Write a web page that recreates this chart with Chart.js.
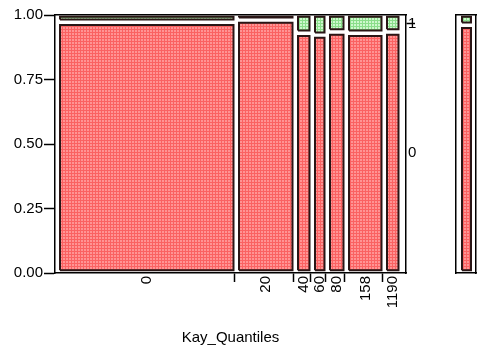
<!DOCTYPE html>
<html>
<head>
<meta charset="utf-8">
<script src="https://cdn.jsdelivr.net/npm/chart.js@4.4.0/dist/chart.umd.min.js"></script>
<style>
  body { margin: 0; background: #fff; }
  #wrap { position: relative; width: 477px; height: 351px; }
  #mosaic { position: absolute; left: 0; top: 0; }
  #margin { position: absolute; left: 440px; top: 0; }
</style>
</head>
<body>
<div id="wrap">
  <canvas id="mosaic" width="440" height="351"></canvas>
  <canvas id="margin" width="37" height="351"></canvas>
</div>
<script>
// --- DATA ---
const categories = ['0', '20', '40', '60', '80', '158', '1190'];
const counts = [179, 59, 17, 15, 19, 38, 17];          // column widths
const share0 = [0.972, 0.980, 0.929, 0.922, 0.934, 0.929, 0.934]; // share of level "0"
const levels = ['0', '1'];
const yTicks = [0, 0.25, 0.5, 0.75, 1];
const xTitle = 'Kay_Quantiles';

Chart.defaults.font.family = "'Liberation Sans', Arial, sans-serif";
Chart.defaults.font.size = 15;
Chart.defaults.color = '#000';

const makePattern = (base, dot) => {
    const c = document.createElement('canvas');
    c.width = 3; c.height = 3;
    const g = c.getContext('2d');
    g.fillStyle = base; g.fillRect(0, 0, 3, 3);
    g.fillStyle = dot; g.fillRect(0, 0, 2, 2);
    return g.createPattern(c, 'repeat');
};
const RED_FILL = makePattern('#fa6262', '#ff9494');
const GREEN_FILL = makePattern('#8ade8a', '#cdf8cd');
const EDGE = '#2a1616';

const total = counts.reduce((a, b) => a + b, 0);
const xMax = total + 7;
const gapL = 5, gapR = 0.5;     // horizontal inset, count units
const gapY = 0.0105, gapTop = 0.007;

const rect = (x0, x1, y0, y1) => [
    { x: x0, y: y0 }, { x: x0, y: y1 }, { x: x1, y: y1 }, { x: x1, y: y0 }, { x: x0, y: y0 }
];
const box = (pts, fill) => ({
    data: pts, showLine: true, fill: 'shape', backgroundColor: fill,
    borderColor: EDGE, borderWidth: 2, pointRadius: 0, pointHoverRadius: 0,
    tension: 0, borderJoinStyle: 'miter'
});

const starts = [];
counts.reduce((acc, c) => { starts.push(acc); return acc + c; }, 0);
const ends = starts.map((s, i) => s + counts[i]);
const centers = starts.map((s, i) => (s + gapL + ends[i]) / 2);

const datasets = [];
categories.forEach((cat, i) => {
    const x0 = starts[i] + gapL, x1 = ends[i] - gapR, p = share0[i];
    datasets.push(box(rect(x0, x1, gapY, p - gapY), RED_FILL));
    datasets.push(box(rect(x0, x1, p + gapY, 1 - gapTop), GREEN_FILL));
});

const boundaryTicks = ends.slice(0, -1);
const centerSet = new Set(centers);
const lastP = share0[share0.length - 1];
const rightTicks = [lastP / 2, (1 + lastP) / 2];

const frame = { display: true, color: '#000', width: 1.5 };
const fixW = w => s => { s.width = w; };
const fixH = h => s => { s.height = h; };

new Chart(document.getElementById('mosaic'), {
    type: 'scatter',
    data: { datasets },
    options: {
        responsive: false, animation: false, devicePixelRatio: 1,
        layout: { padding: 0 },
        plugins: { legend: { display: false }, tooltip: { enabled: false } },
        scales: {
            x: {
                type: 'linear', position: 'bottom', min: 0, max: xMax,
                afterBuildTicks: s => {
                    s.ticks = boundaryTicks.concat(centers).sort((a, b) => a - b).map(v => ({ value: v }));
                },
                afterFit: fixH(78),
                ticks: {
                    autoSkip: false, minRotation: 90, maxRotation: 90, padding: -6,
                    callback: v => {
                        const i = centers.indexOf(v);
                        return i >= 0 ? categories[i] : '';
                    }
                },
                grid: {
                    drawOnChartArea: false, tickLength: 9, tickWidth: 1.5,
                    tickColor: ctx => (ctx.tick && centerSet.has(ctx.tick.value)) ? 'rgba(0,0,0,0)' : '#000'
                },
                border: frame,
                title: { display: true, text: xTitle, padding: { top: 0, bottom: 4 } }
            },
            xTop: {
                type: 'linear', position: 'top', min: 0, max: xMax,
                afterFit: fixH(15),
                ticks: { display: false }, grid: { display: false }, border: frame
            },
            y: {
                type: 'linear', position: 'left', min: 0, max: 1,
                afterBuildTicks: s => { s.ticks = yTicks.map(v => ({ value: v })); },
                afterFit: fixW(55),
                ticks: { padding: 1, callback: v => v.toFixed(2) },
                grid: { drawOnChartArea: false, tickLength: 11, tickWidth: 1.5, tickColor: '#000' },
                border: frame
            },
            y2: {
                type: 'linear', position: 'right', min: 0, max: 1,
                afterBuildTicks: s => { s.ticks = rightTicks.map(v => ({ value: v })); },
                afterFit: fixW(34),
                ticks: { padding: -7, callback: (v, i) => levels[i] },
                grid: {
                    drawOnChartArea: false, tickLength: 9, tickWidth: 1.5,
                    tickColor: ctx => (ctx.index === 1 ? '#000' : 'rgba(0,0,0,0)')
                },
                border: frame
            }
        }
    }
});

// marginal bar: overall share of each level
const overall0 = counts.reduce((a, c, i) => a + c * share0[i], 0) / total;
new Chart(document.getElementById('margin'), {
    type: 'scatter',
    data: {
        datasets: [
            box(rect(0.3, 0.75, gapY, overall0 - gapY), RED_FILL),
            box(rect(0.3, 0.75, overall0 + gapY, 1 - gapTop), GREEN_FILL)
        ]
    },
    options: {
        responsive: false, animation: false, devicePixelRatio: 1,
        layout: { padding: { right: 1 } },
        plugins: { legend: { display: false }, tooltip: { enabled: false } },
        scales: {
            x: { type: 'linear', min: 0, max: 1, afterFit: fixH(78),
                 ticks: { display: false }, grid: { display: false }, border: frame },
            xTop: { type: 'linear', position: 'top', min: 0, max: 1, afterFit: fixH(15),
                 ticks: { display: false }, grid: { display: false }, border: frame },
            y: { type: 'linear', min: 0, max: 1, afterFit: fixW(16),
                 ticks: { display: false }, grid: { display: false }, border: frame },
            y2: { type: 'linear', position: 'right', min: 0, max: 1, afterFit: fixW(0),
                 ticks: { display: false }, grid: { display: false }, border: frame }
        }
    }
});
</script>
</body>
</html>
